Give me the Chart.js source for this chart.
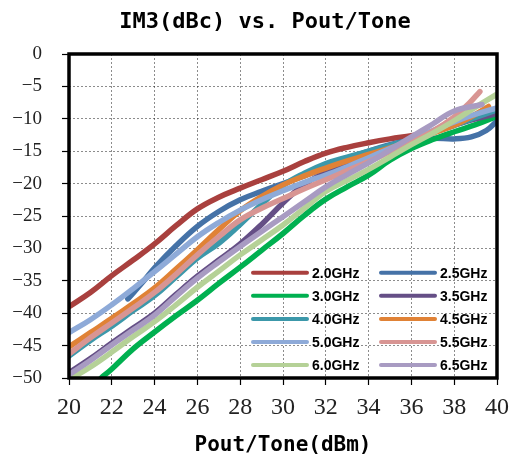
<!DOCTYPE html>
<html>
<head>
<meta charset="utf-8">
<script src="https://cdn.jsdelivr.net/npm/chart.js@4.4.0/dist/chart.umd.min.js"></script>
<style>
  html, body { margin: 0; padding: 0; background: #fff; }
  #wrap { width: 512px; height: 463px; }
</style>
</head>
<body>
<div id="wrap"><canvas id="im3Chart" width="512" height="463"></canvas></div>
<script>
// ============================
//  DATA
// ============================

const chartTitle = 'IM3(dBc) vs. Pout/Tone';
const freqLabels = ['2.0GHz', '2.5GHz', '3.0GHz', '3.5GHz', '4.0GHz', '4.5GHz', '5.0GHz', '5.5GHz', '6.0GHz', '6.5GHz'];
const lineColors = ['#a9403e', '#4572a7', '#00b050', '#654f86', '#3c98aa', '#e08236', '#8eaad8', '#d89593', '#b5d197', '#a89bc2'];

const xTicks = [20, 22, 24, 26, 28, 30, 32, 34, 36, 38, 40];
const yTicks = [0, -5, -10, -15, -20, -25, -30, -35, -40, -45, -50];

// Pout/Tone (dBm) and IM3 (dBc) for each frequency
const pout20 = [20, 21, 22, 23, 24, 25, 26, 27, 28, 29, 30, 31, 32, 33, 34, 35, 36, 37, 38, 39.3];
const im320  = [-39, -36.8, -34.2, -31.8, -29.3, -26.5, -23.9, -22.1, -20.7, -19.4, -18.1, -16.6, -15.3, -14.4, -13.7, -13.1, -12.6, -12, -10.8, -8.9];

const pout25 = [22.75, 23.5, 24, 25, 26, 27, 28, 29, 30, 31, 32, 33, 34, 35, 36, 37, 38, 38.8, 39.5, 40];
const im325  = [-37.8, -35, -33, -29.6, -26.6, -24.3, -22.5, -21.2, -20, -18.8, -17.6, -16.2, -15, -14, -13.3, -13, -13.1, -12.8, -11.8, -10.3];

const pout30 = [21.5, 22, 23, 24, 25, 26, 27, 28, 29, 30, 31, 32, 33, 34, 35, 36, 37, 38, 39, 40];
const im330  = [-50, -48.6, -45.5, -42.9, -40.4, -38, -35.4, -32.9, -30.3, -27.7, -24.9, -22.4, -20.5, -18.7, -16.4, -14.6, -13.2, -12, -10.9, -9.6];

const pout35 = [20, 21, 22, 23, 24, 25, 26, 27, 28, 29, 30, 31, 32, 33, 34, 35, 36, 37, 38, 39, 40];
const im335  = [-49.2, -47, -44.6, -42.3, -40, -37.1, -34.3, -31.8, -29.3, -26.3, -23, -20.1, -18.3, -16.8, -15.5, -14.3, -13.2, -12.1, -11, -10, -9.2];

const pout40 = [20, 21, 22, 23, 24, 25, 26, 27, 28, 29, 30, 31, 32, 33, 34, 35, 36, 37, 38, 39, 40];
const im340  = [-46.6, -44.2, -42, -39.6, -37.3, -34.4, -31.5, -29.2, -26.3, -23.2, -20.3, -18.4, -16.9, -15.9, -15, -14.1, -13.2, -12.1, -11, -9.8, -8.6];

const pout45 = [20, 21, 22, 23, 24, 25, 26, 27, 28, 29, 30, 31, 32, 33, 34, 35, 36, 37, 38, 39, 39.6];
const im345  = [-45.2, -43, -40.8, -38.5, -36.1, -33.2, -30.2, -27.1, -24.2, -22, -20.2, -18.8, -17.6, -16.5, -15.5, -14.5, -13.4, -12.2, -11, -9.3, -8.1];

const pout50 = [20, 21, 22, 23, 24, 25, 26, 27, 28, 29, 30, 31, 32, 33, 34, 35, 36, 37, 38, 39, 40];
const im350  = [-43, -41, -38.7, -36.2, -33.6, -30.9, -28.2, -26, -24.1, -22.5, -21.1, -19.8, -18.7, -17.4, -16, -14.6, -13.2, -11.8, -10.5, -9.3, -8.3];

const pout55 = [20, 21, 22, 23, 24, 25, 26, 27, 28, 29, 30, 31, 32, 33, 34, 35, 36, 37, 38, 38.7, 39.2];
const im355  = [-46.3, -43.8, -41.5, -39.2, -36.8, -34, -31, -28.2, -25.6, -23.8, -22.3, -20.8, -19.4, -18, -16.6, -15.1, -13.6, -11.9, -9.7, -7.6, -5.8];

const pout60 = [20, 21, 22, 23, 24, 25, 26, 27, 28, 29, 30, 31, 32, 33, 34, 35, 36, 37, 38, 39, 40];
const im360  = [-50.3, -48.3, -46, -43.6, -41.3, -38.7, -36, -33.5, -31, -28.7, -26.4, -23.8, -21.2, -19.5, -17.8, -15.9, -14, -12.2, -10.3, -8.2, -6.2];

const pout65 = [20, 21, 22, 23, 24, 25, 26, 27, 28, 29, 30, 31, 32, 33, 34, 35, 36, 37, 38, 39.3];
const im365  = [-49.5, -47.3, -44.9, -42.6, -40.3, -37.4, -34.6, -32.1, -29.7, -27.4, -25.1, -22.8, -20.5, -18.6, -16.8, -14.8, -12.8, -10.8, -8.8, -7.8];

const poutSets = [pout20, pout25, pout30, pout35, pout40, pout45, pout50, pout55, pout60, pout65];
const im3Sets  = [im320, im325, im330, im335, im340, im345, im350, im355, im360, im365];

// ============================
//  PLUGINS: title, frame, legend
// ============================

const chartDecor = {
    id: 'chartDecor',
    afterDatasetsDraw(chart) {
        const { ctx, chartArea } = chart;
        ctx.save();

        // black frame round the plot
        ctx.strokeStyle = '#000';
        ctx.lineWidth = 3.5;
        ctx.strokeRect(chartArea.left, chartArea.top, chartArea.right - chartArea.left, chartArea.bottom - chartArea.top);

        // legend inside, two columns
        chart.data.datasets.forEach((ds, i) => {
            const col = i % 2;
            const row = Math.floor(i / 2);
            const x0 = chartArea.right - 244 + col * 128;
            const y = chartArea.bottom - 105.3 + row * 23.1;
            ctx.strokeStyle = ds.borderColor;
            ctx.lineWidth = 4;
            ctx.lineCap = 'round';
            ctx.beginPath();
            ctx.moveTo(x0, y);
            ctx.lineTo(x0 + 54, y);
            ctx.stroke();
            ctx.fillStyle = '#000';
            ctx.font = 'bold 14px "Liberation Sans", Arial, sans-serif';
            ctx.textBaseline = 'middle';
            ctx.textAlign = 'left';
            ctx.fillText(ds.label, x0 + 59, y + 1);
        });

        // title
        ctx.fillStyle = '#000';
        ctx.font = 'bold 22px "DejaVu Sans Mono", monospace';
        ctx.textAlign = 'center';
        ctx.textBaseline = 'middle';
        ctx.fillText(chartTitle, 265, 22);
        ctx.restore();
    }
};

// ============================
//  CHART
// ============================

const ctx = document.getElementById('im3Chart').getContext('2d');

const datasets = freqLabels.map((lab, i) => ({
    label: lab,
    data: poutSets[i].map((x, k) => ({ x: x, y: im3Sets[i][k] })),
    borderColor: lineColors[i],
    backgroundColor: lineColors[i],
    borderWidth: 5.5,
    borderCapStyle: 'round',
    borderJoinStyle: 'round',
    pointRadius: 0,
    tension: 0.4,
    fill: false,
    order: freqLabels.length - i   // later series on top, like the original
}));

const gridColor = 'rgba(0,0,0,0.45)';

const im3Chart = new Chart(ctx, {
    type: 'line',
    data: { datasets: datasets },
    options: {
        responsive: false,
        animation: false,
        layout: { padding: { left: 0, right: 15, top: 54, bottom: 0 } },
        plugins: {
            legend: { display: false },
            tooltip: { enabled: false },
            title: { display: false }
        },
        scales: {
            x: {
                type: 'linear',
                min: 20,
                max: 40,
                afterBuildTicks: (s) => { s.ticks = xTicks.map(v => ({ value: v })); },
                afterFit: (s) => { s.height = 85; s.paddingRight = 0; s.paddingLeft = 0; },
                ticks: {
                    color: '#222',
                    padding: 8,
                    maxRotation: 0,
                    font: { family: '"Liberation Serif", "Times New Roman", serif', size: 24 }
                },
                grid: { color: gridColor, lineWidth: 1, tickColor: '#000', tickLength: 7, tickWidth: 1.2 },
                border: { display: false, dash: [2, 2] },
                title: {
                    display: true,
                    text: 'Pout/Tone(dBm)',
                    color: '#000',
                    font: { family: '"DejaVu Sans Mono", monospace', size: 21, weight: 'bold' },
                    padding: { top: 0, bottom: 5 }
                }
            },
            y: {
                type: 'linear',
                min: -50,
                max: 0,
                afterBuildTicks: (s) => { s.ticks = yTicks.map(v => ({ value: v })); },
                afterFit: (s) => { s.width = 69; },
                ticks: {
                    color: '#222',
                    padding: 20,
                    font: { family: '"Liberation Serif", "Times New Roman", serif', size: 19 },
                    callback: (v) => String(v).replace('-', '\u2212')
                },
                grid: { color: gridColor, lineWidth: 1, tickColor: '#000', tickLength: 7, tickWidth: 1.2 },
                border: { display: false, dash: [2, 2] }
            }
        }
    },
    plugins: [chartDecor]
});
</script>
</body>
</html>
